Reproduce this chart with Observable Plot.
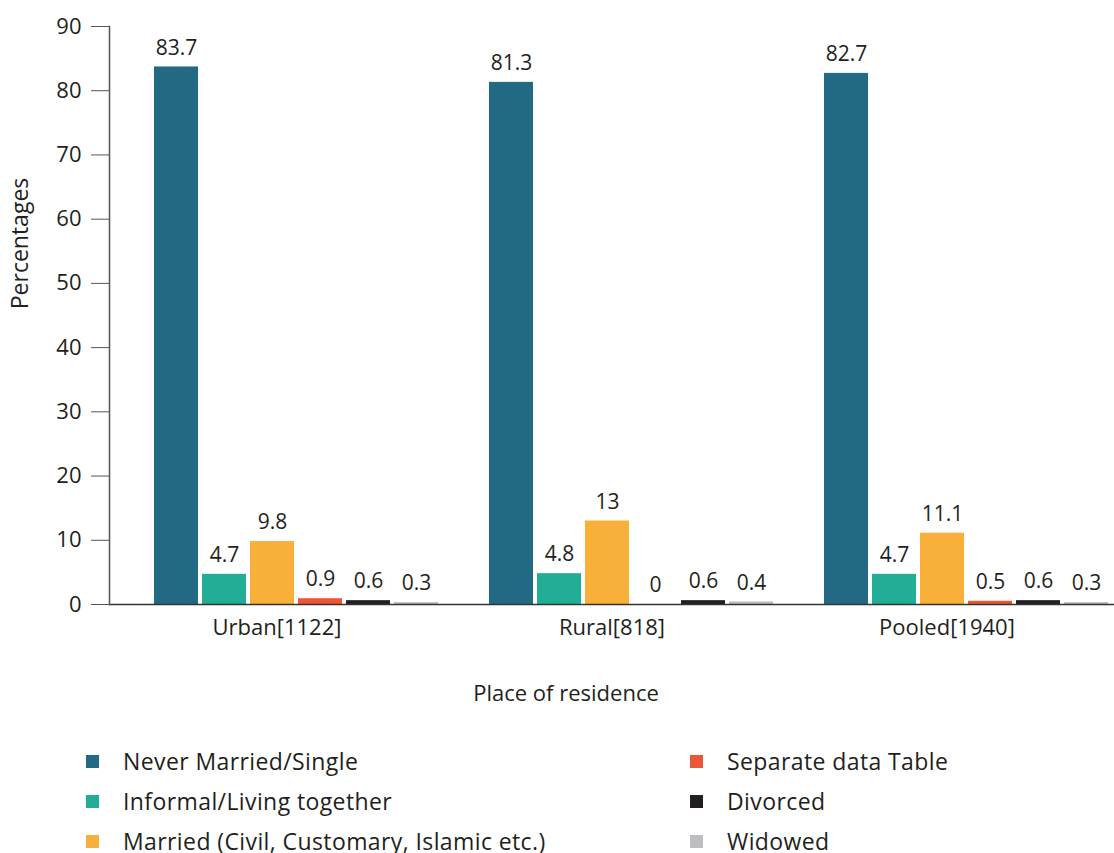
<!DOCTYPE html>
<html>
<head>
<meta charset="utf-8">
<script src="https://cdn.jsdelivr.net/npm/d3@7"></script>
<script src="https://cdn.jsdelivr.net/npm/@observablehq/plot@0.6"></script>
<style>
  html, body { margin: 0; padding: 0; background: #fff; }
  body { font-family: "Open Sans", Lato, sans-serif; color: #231f20; width: 1114px; height: 853px; overflow: hidden; }
  #chart svg { display: block; }
  #legend { margin-top: 21px; padding-left: 86px; display: grid; grid-template-columns: 604px auto; grid-template-rows: repeat(3, 40px); grid-auto-flow: column; }
  .item { display: flex; align-items: center; font-size: 23px; letter-spacing: 0.4px; color: #231f20; white-space: nowrap; }
  .sw { width: 13px; height: 13px; margin-right: 24px; flex: none; }
</style>
</head>
<body>
<div id="chart"></div>
<div id="legend"></div>
<script>
const groups = ["Urban[1122]", "Rural[818]", "Pooled[1940]"];
const statuses = [
  "Never Married/Single",
  "Informal/Living together",
  "Married (Civil, Customary, Islamic etc.)",
  "Separate data Table",
  "Divorced",
  "Widowed"
];
const urbanValues = [83.7, 4.7, 9.8, 0.9, 0.6, 0.3];
const ruralValues = [81.3, 4.8, 13, 0, 0.6, 0.4];
const pooledValues = [82.7, 4.7, 11.1, 0.5, 0.6, 0.3];
const colors = ["#226a83", "#22ae96", "#f9b03a", "#ee5537", "#231f20", "#bcbec0"];
const yTicks = [0, 10, 20, 30, 40, 50, 60, 70, 80, 90];

const valuesByGroup = [urbanValues, ruralValues, pooledValues];
const rows = groups.flatMap((g, i) =>
  statuses.map((s, j) => ({group: g, status: s, value: valuesByGroup[i][j]}))
);

const font = "'Open Sans', Lato, sans-serif";
const chart = Plot.plot({
  width: 1114,
  height: 720,
  marginLeft: 109,
  marginRight: 0,
  marginTop: 26,
  marginBottom: 116,
  style: {fontFamily: font, fontSize: "20px", color: "#231f20", background: "#fff"},
  fx: {domain: groups, padding: 0, label: null},
  x: {domain: statuses, paddingInner: 0.0833, paddingOuter: 0.531, align: 0.88, axis: null},
  y: {domain: [0, 90]},
  color: {domain: statuses, range: colors},
  marks: [
    Plot.barY(rows, {fx: "group", x: "status", y: "value", fill: "status"}),
    Plot.text(rows, {fx: "group", x: "status", y: "value", text: d => String(d.value), dy: -19, fontSize: 21, fill: "#231f20"}),
    Plot.ruleY([0], {stroke: "#333", strokeWidth: 1.5}),
    Plot.frame({anchor: "left", facetAnchor: "left", stroke: "#555", strokeWidth: 1.5}),
    Plot.axisY({ticks: yTicks, tickSize: 18, tickPadding: 10, label: null, stroke: "#555", fill: "#231f20", fontSize: 22}),
    Plot.axisFx({anchor: "bottom", tickSize: 0, tickPadding: 15, label: null, fontSize: 22, fill: "#231f20"}),
    Plot.text(["Place of residence"], {frameAnchor: "bottom", facetAnchor: "left", textAnchor: "middle", dx: 289, dy: 96, fontSize: 22, fill: "#231f20"}),
    Plot.text(["Percentages"], {frameAnchor: "left", facetAnchor: "left", textAnchor: "middle", rotate: -90, dx: -89, dy: -72, fontSize: 23, letterSpacing: 0.5, fill: "#231f20"})
  ]
});
document.getElementById("chart").appendChild(chart);

const legend = d3.select("#legend");
statuses.forEach((s, i) => {
  const it = legend.append("div").attr("class", "item");
  it.append("div").attr("class", "sw").style("background", colors[i]);
  it.append("span").text(s);
});
</script>
</body>
</html>
